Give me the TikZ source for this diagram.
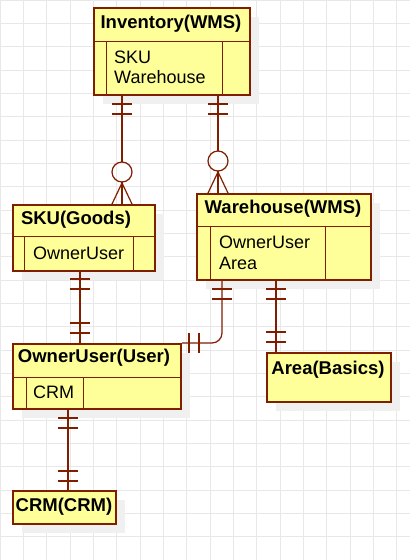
\documentclass[tikz,border=0pt]{standalone}
\usepackage{fontspec}
\setmainfont{Liberation Sans}
\definecolor{ln}{RGB}{128,30,0}
\definecolor{fillc}{RGB}{255,255,153}
\definecolor{gridc}{RGB}{232,232,232}
\definecolor{shad}{RGB}{240,240,240}
\begin{document}
\begin{tikzpicture}[x=1pt,y=-1pt,
  ent/.style={draw=ln,line width=2pt,fill=fillc,inner sep=0pt,anchor=north west},
  inner/.style={draw=ln,line width=0.9pt},
  hd/.style={font=\fontsize{18.5}{21}\selectfont\bfseries,anchor=center},
  attr/.style={font=\fontsize{18}{21}\selectfont,anchor=west,inner sep=0pt},
  con/.style={draw=ln,line width=1.2pt},
  tk/.style={draw=ln,line width=1.2pt}]
\useasboundingbox (0,0) rectangle (410,560);
\fill[white] (0,0) rectangle (410,560);
\foreach \i in {0,...,18}{\draw[gridc,line width=0.8pt] (\i*23.33,0) -- (\i*23.33,560);}
\foreach \i in {0,...,24}{\draw[gridc,line width=0.8pt] (0,\i*23.33) -- (410,\i*23.33);}
% shadows
\foreach \a/\b/\c/\d in {93/7/249/94, 12/204/154/270, 196/193/370/279, 12/343/180/408, 266/352/390/401, 12/490/115/523}
  {\fill[shad] (\a+10,\b+10) rectangle (\c+10,\d+10);}
% Inventory
\node[ent,minimum width=156pt,minimum height=87pt] (inv) at (93,7) {};
\draw[inner] (93,41) -- (249,41) (106,41) -- (106,94) (222,41) -- (222,94);
\node[hd] (invh) at (171,24) {Inventory(WMS)};
\node[attr] (inva) at (114,57) {SKU};
\node[attr] (invb) at (114,77) {Warehouse};
% SKU
\node[ent,minimum width=142pt,minimum height=66pt] (sku) at (12,204) {};
\draw[inner] (12,236) -- (154,236) (24,236) -- (24,270) (133,236) -- (133,270);
\node[hd] (skuh) at (76,220) {SKU(Goods)};
\node[attr] (skua) at (33,253) {OwnerUser};
% Warehouse
\node[ent,minimum width=174pt,minimum height=86pt] (wh) at (196,193) {};
\draw[inner] (196,226) -- (370,226) (210,226) -- (210,279) (325,226) -- (325,279);
\node[hd] (whh) at (283,209) {Warehouse(WMS)};
\node[attr] (wha) at (219,242) {OwnerUser};
\node[attr] (whb) at (219,263) {Area};
% OwnerUser
\node[ent,minimum width=168pt,minimum height=65pt] (ou) at (12,343) {};
\draw[inner] (12,377) -- (180,377) (26,377) -- (26,408) (83,377) -- (83,408);
\node[hd] (ouh) at (94,358) {OwnerUser(User)};
\node[attr] (oua) at (33,392) {CRM};
% Area
\node[ent,minimum width=124pt,minimum height=49pt] (area) at (266,352) {};
\node[hd] (areah) at (328,370) {Area(Basics)};
% CRM
\node[ent,minimum width=103pt,minimum height=33pt] (crm) at (12,490) {};
\node[hd] (crmh) at (64,507) {CRM(CRM)};
% Inventory -> SKU
\draw[con] (inv.south -| 122,0) -- (122,162);
\draw[con] (122,182) -- (sku.north -| 122,0);
\draw[tk] (112,104) -- (132,104) (112,114) -- (132,114);
\draw[con] (122,172) circle (10);
\draw[con] (112,204) -- (122,183) -- (132,204);
% Inventory -> Warehouse
\draw[con] (inv.south -| 218,0) -- (218,151);
\draw[con] (218,171) -- (wh.north -| 218,0);
\draw[tk] (208,104) -- (228,104) (208,114) -- (228,114);
\draw[con] (218,161) circle (10);
\draw[con] (208,193) -- (218,172) -- (228,193);
% SKU -> OwnerUser
\draw[con] (sku.south -| 80,0) -- (ou.north -| 80,0);
\draw[tk] (70,279) -- (90,279) (70,289) -- (90,289) (70,323) -- (90,323) (70,333) -- (90,333);
% Warehouse -> OwnerUser
\draw[con,rounded corners=10pt] (wh.south -| 222,0) -- (222,343) -- (ou.north east);
\draw[tk] (212,289) -- (232,289) (212,299) -- (232,299);
\draw[tk] (189,333) -- (189,353) (199,333) -- (199,353);
% Warehouse -> Area
\draw[con] (wh.south -| 276,0) -- (area.north -| 276,0);
\draw[tk] (266,289) -- (286,289) (266,299) -- (286,299) (266,332) -- (286,332) (266,342) -- (286,342);
% OwnerUser -> CRM
\draw[con] (ou.south -| 68,0) -- (crm.north -| 68,0);
\draw[tk] (58,418) -- (78,418) (58,428) -- (78,428) (58,471) -- (78,471) (58,481) -- (78,481);
\end{tikzpicture}
\end{document}
